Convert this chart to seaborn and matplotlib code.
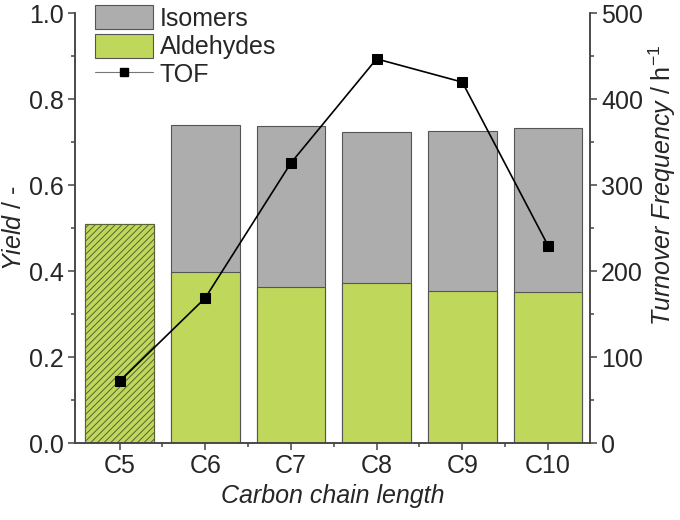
import numpy as np
import matplotlib
matplotlib.use("Agg")
import matplotlib.pyplot as plt
import seaborn as sns
from matplotlib.patches import Patch
from matplotlib.lines import Line2D
from matplotlib.ticker import AutoMinorLocator, FixedLocator

chains = ["C5", "C6", "C7", "C8", "C9", "C10"]
aldehydes = [0.509, 0.399, 0.364, 0.372, 0.355, 0.351]
isomers = [0.0, 0.342, 0.373, 0.351, 0.371, 0.382]
tof = [72, 169, 326, 447, 420, 230]

grey = "#adadad"
green = "#bfd75b"
edge = "#555555"

sns.set_style("ticks")
plt.rcParams["font.family"] = ["Liberation Sans", "DejaVu Sans"]
plt.rcParams["mathtext.fontset"] = "custom"
plt.rcParams["mathtext.rm"] = "Liberation Sans"
plt.rcParams["mathtext.it"] = "Liberation Sans:italic"
plt.rcParams["hatch.linewidth"] = 0.7

total = [a + b for a, b in zip(aldehydes, isomers)]
pos = np.arange(len(chains))

fig = plt.figure(figsize=(6.8, 5.2), dpi=100)
ax = fig.add_axes([0.1103, 0.1475, 0.7573, 0.8269])

sns.barplot(x=chains, y=total, color=grey, width=0.8, saturation=1,
            edgecolor=edge, linewidth=0.8, ax=ax)
sns.barplot(x=chains, y=aldehydes, color=green, width=0.8, saturation=1,
            edgecolor=edge, linewidth=0.8, ax=ax)

# C5: aldehydes only, hatched
c5 = ax.patches[len(chains)]
c5.set_hatch("/////")
c5.set_edgecolor("#5a6332")

ax.set_xlim(-0.52, 5.49)
ax.set_ylim(0, 1.0)
ax.set_yticks([0, 0.2, 0.4, 0.6, 0.8, 1.0])
ax.set_yticklabels(["0.0", "0.2", "0.4", "0.6", "0.8", "1.0"])
ax.yaxis.set_minor_locator(AutoMinorLocator(2))
ax.xaxis.set_minor_locator(FixedLocator(pos[:-1] + 0.5))
ax.set_xlabel("Carbon chain length", fontsize=18, style="italic", labelpad=4)
ax.set_ylabel(r"$\mathit{Yield}$ / -", fontsize=18, labelpad=2)

ax2 = ax.twinx()
sns.lineplot(x=pos, y=tof, color="black", linewidth=1.2, marker="s",
             markersize=7, markeredgecolor="black", ax=ax2)
ax2.set_ylim(0, 500)
ax2.set_yticks([0, 100, 200, 300, 400, 500])
ax2.yaxis.set_minor_locator(AutoMinorLocator(2))
ax2.set_ylabel(r"$\mathit{Turnover\ Frequency}$ / h$^{-1}$", fontsize=18)
ax2.yaxis.set_label_coords(1.11, 0.6)

for a in (ax, ax2):
    for s in a.spines.values():
        s.set_color("#444444")
        s.set_linewidth(1.1)
    a.spines["top"].set_visible(False)
    a.tick_params(which="major", direction="out", length=5, width=1.1,
                  color="#444444", labelsize=18, pad=3)
    a.tick_params(which="minor", direction="out", length=3, width=1.1,
                  color="#444444")
ax.tick_params(axis="y", right=False)
ax2.tick_params(axis="y", left=False)

handles = [
    Patch(facecolor=grey, edgecolor=edge, linewidth=0.8, label="Isomers"),
    Patch(facecolor=green, edgecolor=edge, linewidth=0.8, label="Aldehydes"),
    Line2D([], [], color="#777777", linewidth=0.8, marker="s", markersize=5.5,
           markerfacecolor="black", markeredgecolor="black", label="TOF"),
]
fig.legend(handles=handles, loc="upper left", bbox_to_anchor=(95 / 680, 1 - 5 / 520),
           frameon=False, fontsize=18, handlelength=2.3, handleheight=1.1,
           labelspacing=0.12, handletextpad=0.3, borderpad=0, borderaxespad=0)

fig.savefig("out.png", dpi=100)
